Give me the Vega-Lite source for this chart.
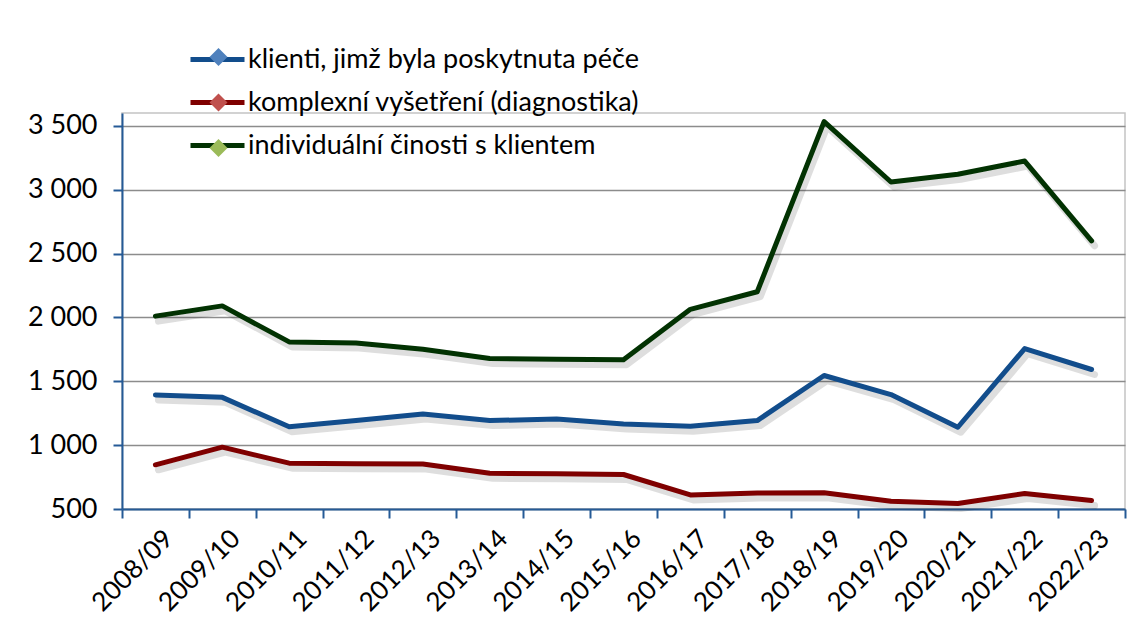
{
  "$schema": "https://vega.github.io/schema/vega-lite/v6.json",
  "autosize": "none",
  "width": 1003,
  "height": 396,
  "padding": {"left": 122, "top": 113, "right": 6, "bottom": 120},
  "background": "white",
  "config": {
    "locale": {"number": {"decimal": ",", "thousands": " ", "grouping": [3], "currency": ["", " Kč"]}},
    "view": {"stroke": "#c4c4c4", "strokeWidth": 1.5},
    "font": "Lato"
  },
  "data": {"values": [
    {"rok": "2008/09", "s": "klienti, jimž byla poskytnuta péče", "v": 1393},
    {"rok": "2009/10", "s": "klienti, jimž byla poskytnuta péče", "v": 1374},
    {"rok": "2010/11", "s": "klienti, jimž byla poskytnuta péče", "v": 1144},
    {"rok": "2011/12", "s": "klienti, jimž byla poskytnuta péče", "v": 1192},
    {"rok": "2012/13", "s": "klienti, jimž byla poskytnuta péče", "v": 1244},
    {"rok": "2013/14", "s": "klienti, jimž byla poskytnuta péče", "v": 1192},
    {"rok": "2014/15", "s": "klienti, jimž byla poskytnuta péče", "v": 1205},
    {"rok": "2015/16", "s": "klienti, jimž byla poskytnuta péče", "v": 1166},
    {"rok": "2016/17", "s": "klienti, jimž byla poskytnuta péče", "v": 1147},
    {"rok": "2017/18", "s": "klienti, jimž byla poskytnuta péče", "v": 1192},
    {"rok": "2018/19", "s": "klienti, jimž byla poskytnuta péče", "v": 1545},
    {"rok": "2019/20", "s": "klienti, jimž byla poskytnuta péče", "v": 1396},
    {"rok": "2020/21", "s": "klienti, jimž byla poskytnuta péče", "v": 1140},
    {"rok": "2021/22", "s": "klienti, jimž byla poskytnuta péče", "v": 1756},
    {"rok": "2022/23", "s": "klienti, jimž byla poskytnuta péče", "v": 1592},
    {"rok": "2008/09", "s": "komplexní vyšetření (diagnostika)", "v": 846},
    {"rok": "2009/10", "s": "komplexní vyšetření (diagnostika)", "v": 984},
    {"rok": "2010/11", "s": "komplexní vyšetření (diagnostika)", "v": 859},
    {"rok": "2011/12", "s": "komplexní vyšetření (diagnostika)", "v": 855},
    {"rok": "2012/13", "s": "komplexní vyšetření (diagnostika)", "v": 852},
    {"rok": "2013/14", "s": "komplexní vyšetření (diagnostika)", "v": 780},
    {"rok": "2014/15", "s": "komplexní vyšetření (diagnostika)", "v": 775},
    {"rok": "2015/16", "s": "komplexní vyšetření (diagnostika)", "v": 770},
    {"rok": "2016/17", "s": "komplexní vyšetření (diagnostika)", "v": 610},
    {"rok": "2017/18", "s": "komplexní vyšetření (diagnostika)", "v": 626},
    {"rok": "2018/19", "s": "komplexní vyšetření (diagnostika)", "v": 627},
    {"rok": "2019/20", "s": "komplexní vyšetření (diagnostika)", "v": 561},
    {"rok": "2020/21", "s": "komplexní vyšetření (diagnostika)", "v": 543},
    {"rok": "2021/22", "s": "komplexní vyšetření (diagnostika)", "v": 621},
    {"rok": "2022/23", "s": "komplexní vyšetření (diagnostika)", "v": 566},
    {"rok": "2008/09", "s": "individuální činosti s klientem", "v": 2010},
    {"rok": "2009/10", "s": "individuální činosti s klientem", "v": 2090},
    {"rok": "2010/11", "s": "individuální činosti s klientem", "v": 1808},
    {"rok": "2011/12", "s": "individuální činosti s klientem", "v": 1800},
    {"rok": "2012/13", "s": "individuální činosti s klientem", "v": 1751},
    {"rok": "2013/14", "s": "individuální činosti s klientem", "v": 1678},
    {"rok": "2014/15", "s": "individuální činosti s klientem", "v": 1672},
    {"rok": "2015/16", "s": "individuální činosti s klientem", "v": 1668},
    {"rok": "2016/17", "s": "individuální činosti s klientem", "v": 2063},
    {"rok": "2017/18", "s": "individuální činosti s klientem", "v": 2201},
    {"rok": "2018/19", "s": "individuální činosti s klientem", "v": 3533},
    {"rok": "2019/20", "s": "individuální činosti s klientem", "v": 3060},
    {"rok": "2020/21", "s": "individuální činosti s klientem", "v": 3120},
    {"rok": "2021/22", "s": "individuální činosti s klientem", "v": 3224},
    {"rok": "2022/23", "s": "individuální činosti s klientem", "v": 2599}
  ]},
  "encoding": {
    "x": {
      "field": "rok", "type": "ordinal", "bandPosition": 0.5,
      "scale": {"type": "band", "paddingInner": 0, "paddingOuter": 0},
      "axis": {
        "title": null, "labelAngle": -45, "tickBand": "extent", "tickSize": 9,
        "domainColor": "#255a96", "domainWidth": 2, "tickColor": "#255a96", "tickWidth": 2,
        "labelFont": "Lato", "labelFontSize": 26, "labelColor": "#000", "labelPadding": 7, "labelOffset": 4, "grid": false
      }
    },
    "y": {
      "field": "v", "type": "quantitative",
      "scale": {"domain": [500, 3600], "nice": false, "zero": false},
      "axis": {
        "title": null, "values": [500, 1000, 1500, 2000, 2500, 3000, 3500], "format": ",d",
        "grid": true, "gridColor": "#8c8c8c", "gridWidth": 1.5,
        "domainColor": "#255a96", "domainWidth": 2, "tickColor": "#255a96", "tickWidth": 2, "tickSize": 9,
        "labelFont": "Lato", "labelFontSize": 27, "labelColor": "#000", "labelPadding": 16
      }
    }
  },
  "layer": [
    {
      "mark": {"type": "line", "color": "#000", "opacity": 0.13, "strokeWidth": 7, "xOffset": 3, "yOffset": 5, "strokeCap": "round", "strokeJoin": "round"},
      "encoding": {
        "detail": {"field": "s"}
      }
    },
    {
      "mark": {"type": "line", "strokeWidth": 5, "strokeCap": "round", "strokeJoin": "round"},
      "encoding": {
        "color": {
          "field": "s", "type": "nominal",
          "scale": {
            "domain": ["klienti, jimž byla poskytnuta péče", "komplexní vyšetření (diagnostika)", "individuální činosti s klientem"],
            "range": ["#124d8c", "#7f0000", "#023202"]
          },
          "legend": {
            "orient": "none", "legendX": 66, "legendY": -83, "title": null, "padding": 0,
            "symbolType": "stroke", "symbolSize": 2916, "symbolStrokeWidth": 5,
            "labelFont": "Lato", "labelFontSize": 27, "labelColor": "#000", "labelOffset": 1, "rowPadding": 0, "labelLimit": 700
          }
        }
      }
    },
    {
      "transform": [{"filter": "false"}],
      "mark": {"type": "point", "filled": true},
      "encoding": {
        "fill": {
          "field": "d", "type": "nominal",
          "scale": {
            "domain": ["A", "B", "C"],
            "range": ["#4f81bd", "#c0504d", "#9bbb59"]
          },
          "legend": {
            "orient": "none", "legendX": 83, "legendY": -69.5, "title": null, "padding": 0, "zindex": 3,
            "symbolType": "diamond", "symbolSize": 324, "symbolStrokeWidth": 0, "symbolOpacity": 1,
            "labelFont": "Lato", "labelFontSize": 27, "labelExpr": "''", "rowPadding": 17.5
          }
        }
      }
    }
  ]
}
